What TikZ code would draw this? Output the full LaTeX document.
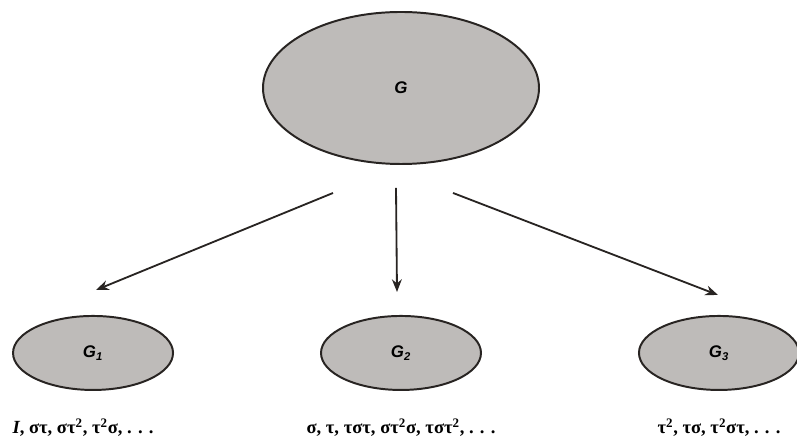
\documentclass[tikz,border=0pt]{standalone}
\usepackage{fontspec}
\setmainfont{Liberation Serif}
\newfontfamily\gsans{Liberation Sans}
\usepackage{xcolor}
\usetikzlibrary{positioning,arrows.meta,calc,shapes.geometric}
\definecolor{cellgray}{RGB}{190,187,185}
\definecolor{inkdark}{RGB}{40,36,34}
\newcommand{\grp}[1]{\gsans\bfseries\itshape G\textsubscript{#1}}

\begin{document}
\begin{tikzpicture}[
   node distance = 3.75cm and 3.65cm,
   top/.style = {ellipse, draw=inkdark, line width=1.4pt, fill=cellgray,
                 minimum width=6.9cm, minimum height=3.8cm, inner sep=0pt,
                 font=\large\gsans\bfseries\itshape},
   sub/.style = {ellipse, draw=inkdark, line width=1.4pt, fill=cellgray,
                 minimum width=4cm, minimum height=1.85cm, inner sep=0pt,
                 font=\large},
   lbl/.style = {font=\bfseries\fontsize{13.2}{15}\selectfont, inner sep=0pt},
   arr/.style = {-{Stealth[length=9pt,width=7pt]}, line width=1.3pt, draw=inkdark}
]
\useasboundingbox (0,0) rectangle (19.925,11.15);
\node[top] (G) at (10.025,8.95) {G};
\node[sub, below=of G]                (G2) {\grp{2}};
\node[sub, left=of G2]                (G1) {\grp{1}};
\node[sub, right=3.9cm of G2]         (G3) {\grp{3}};

\node[lbl, below=0.7cm of G1, xshift=-0.25cm] (c1) {\textit{I}, στ, στ\textsuperscript{2}, τ\textsuperscript{2}σ, . . .};
\node[lbl, below=0.7cm of G2]                 (c2) {σ, τ, τστ, στ\textsuperscript{2}σ, τστ\textsuperscript{2}, . . .};
\node[lbl, below=0.7cm of G3]                 (c3) {τ\textsuperscript{2}, τσ, τ\textsuperscript{2}στ, . . .};

\draw[arr] ([shift={(-1.7,-0.7)}]G.south)   -- ([shift={(0.075,0.625)}]G1.north);
\draw[arr] ([shift={(-0.125,-0.575)}]G.south) -- ([shift={(-0.1,0.575)}]G2.north);
\draw[arr] ([shift={(1.3,-0.7)}]G.south)    -- ([shift={(-0.025,0.5)}]G3.north);
\end{tikzpicture}
\end{document}
